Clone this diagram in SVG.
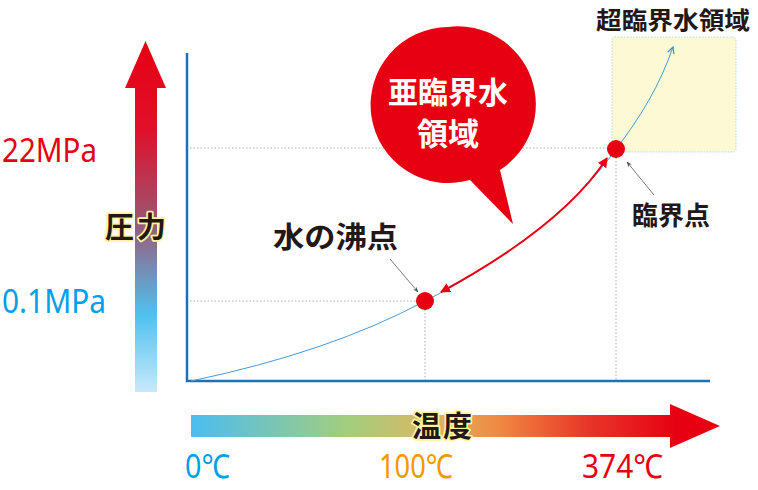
<svg xmlns="http://www.w3.org/2000/svg" width="758" height="490" viewBox="0 0 758 490">
<defs>
<linearGradient id="gv" x1="0" y1="0" x2="0" y2="1" gradientUnits="objectBoundingBox">
<stop offset="0" stop-color="#e60012"/>
<stop offset="0.25" stop-color="#e0102a"/>
<stop offset="0.5" stop-color="#a0506e"/>
<stop offset="0.78" stop-color="#4fc1ef"/>
<stop offset="1" stop-color="#c9e8f9"/>
</linearGradient>
<linearGradient id="gh" x1="191" y1="0" x2="720" y2="0" gradientUnits="userSpaceOnUse">
<stop offset="0" stop-color="#4cbdef"/>
<stop offset="0.3" stop-color="#a5cd7c"/>
<stop offset="0.45" stop-color="#d9b866"/>
<stop offset="0.58" stop-color="#f08a42"/>
<stop offset="0.75" stop-color="#e8362a"/>
<stop offset="0.92" stop-color="#e60012"/>
</linearGradient>
<marker id="ar" viewBox="0 0 10 10" refX="9" refY="5" markerWidth="5" markerHeight="5" orient="auto-start-reverse">
<path d="M0,0 L10,5 L0,10 z" fill="#e60012"/>
</marker>
<marker id="ag" viewBox="0 0 10 10" refX="9" refY="5" markerWidth="7" markerHeight="7" orient="auto">
<path d="M0,1 L10,5 L0,9 L3,5 z" fill="#555"/>
</marker>
<marker id="ab" viewBox="0 0 10 10" refX="9" refY="5" markerWidth="8" markerHeight="8" orient="auto">
<path d="M1,1 L9,5 L1,9" fill="none" stroke="#3a8fd0" stroke-width="1.5"/>
</marker>
</defs>
<style>
.dot{stroke:#aaa;stroke-width:1;stroke-dasharray:1.5 2;fill:none}
.jp{font-family:"Noto Sans CJK JP",sans-serif;font-weight:bold}
.glow{paint-order:stroke;stroke:#fff3a0;stroke-width:3.5;stroke-linejoin:round;fill:#231815}
.num{font-family:"Noto Sans","Open Sans",sans-serif;font-size:33px}
.lbl{fill:#231815}
.pt{fill:#e60012}
</style>
<g id="pressure-arrow">
<path d="M135,88 L125,88 L145.5,41 L166,88 L157,88 L157,392 L135,392 Z" fill="url(#gv)"/>
<text class="jp glow" x="105" y="238" font-size="29" letter-spacing="3">圧力</text>
</g>
<g id="pressure-labels">
<text class="num" x="2" y="162" fill="#e60012" textLength="95" lengthAdjust="spacingAndGlyphs">22MPa</text>
<text class="num" x="2" y="313" fill="#00a0e9" textLength="104" lengthAdjust="spacingAndGlyphs">0.1MPa</text>
</g>
<g id="supercritical-region">
<rect x="612" y="37" width="124" height="115" rx="3" fill="#fdf9d4" stroke="#9fd4e6" stroke-width="0.8" stroke-dasharray="1.5 1.5"/>
<text class="jp lbl" x="596" y="29" font-size="24" textLength="154" lengthAdjust="spacingAndGlyphs">超臨界水領域</text>
</g>
<g id="grid">
<line class="dot" x1="190" y1="148" x2="612" y2="148"/>
<line class="dot" x1="190" y1="301" x2="420" y2="301"/>
<line class="dot" x1="425" y1="306" x2="425" y2="381"/>
<line class="dot" x1="616" y1="154" x2="616" y2="381"/>
</g>
<g id="axes">
<path d="M187,53 L187,381 L710,381" fill="none" stroke="#1a72bb" stroke-width="2.5"/>
</g>
<g id="connectors">
<path d="M191,381 Q330,352 425,301 C490,268 570,215 616,149 C640,118 660,85 673,47" fill="none" stroke="#4a9ad6" stroke-width="1" marker-end="url(#ab)"/>
<path d="M441,292 C500,260 570,215 607,158" fill="none" stroke="#e60012" stroke-width="2" marker-start="url(#ar)" marker-end="url(#ar)"/>
<line x1="390" y1="259" x2="418" y2="292" stroke="#555" stroke-width="0.8" marker-end="url(#ag)"/>
<line x1="654" y1="195" x2="627" y2="162" stroke="#555" stroke-width="0.8" marker-end="url(#ag)"/>
</g>
<g id="boiling-point">
<circle class="pt" cx="425" cy="301" r="9"/>
<text class="jp lbl" x="273" y="248" font-size="29" textLength="125" lengthAdjust="spacingAndGlyphs">水の沸点</text>
</g>
<g id="critical-point">
<circle class="pt" cx="616" cy="149" r="9"/>
<text class="jp lbl" x="632" y="225" font-size="26">臨界点</text>
</g>
<g id="subcritical-bubble">
<path d="M448,27 A78,78 0 1 0 470,180 L513,224 L500,170 A78,78 0 0 0 448,27 Z" fill="#e60012"/>
<text class="jp" x="448" y="103" font-size="30" fill="#fff" text-anchor="middle">亜臨界水</text>
<text class="jp" x="448" y="145" font-size="31" fill="#fff" text-anchor="middle">領域</text>
</g>
<g id="temperature-arrow">
<path d="M191,415 L670,415 L670,404 L720,426 L670,448 L670,437 L191,437 Z" fill="url(#gh)"/>
<text class="jp glow" x="412" y="437" font-size="29" letter-spacing="2">温度</text>
</g>
<g id="temperature-labels">
<text class="num" x="185" y="478" fill="#00a0e9" textLength="45" lengthAdjust="spacingAndGlyphs">0℃</text>
<text class="num" x="379" y="478" fill="#f39800" textLength="74" lengthAdjust="spacingAndGlyphs">100℃</text>
<text class="num" x="582" y="478" fill="#e60012" textLength="81" lengthAdjust="spacingAndGlyphs">374℃</text>
</g>
</svg>
